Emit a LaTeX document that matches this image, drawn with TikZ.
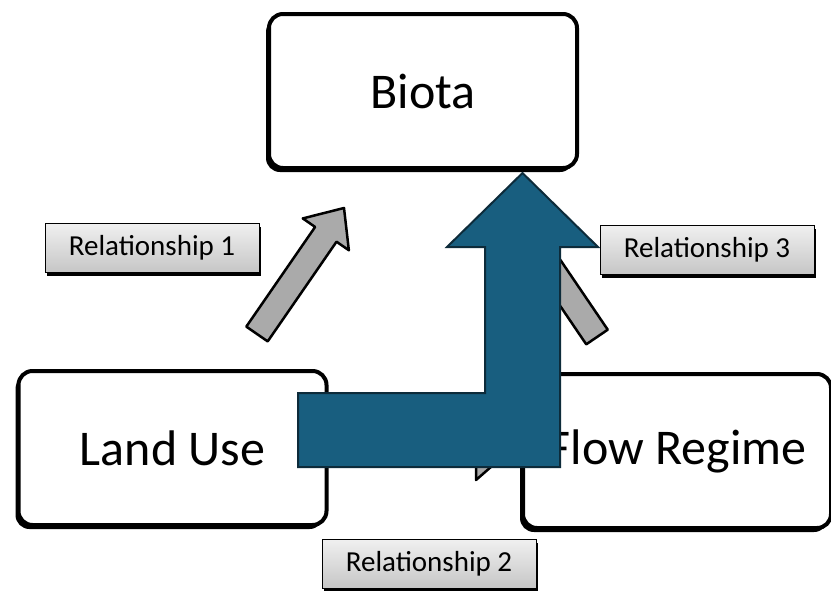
\documentclass[tikz,border=0pt]{standalone}
\usepackage{fontspec}
\setmainfont{Carlito}
\usetikzlibrary{calc, shadows}
\definecolor{FlowBlue}{HTML}{185E7F}
\definecolor{FlowEdge}{HTML}{0D2B3A}
\definecolor{ArrowGray}{HTML}{AAAAAA}

% block arrow between two named coordinates
\newcommand{\relarrow}[2]{%
  \coordinate (h) at ($(#2)!32pt!(#1)$);
  \draw[grayarrow] ($(#1)!13pt!90:(#2)$) -- ($(h)!13pt!90:(#2)$) -- ($(h)!28pt!90:(#2)$) -- (#2)
    -- ($(h)!28pt!-90:(#2)$) -- ($(h)!13pt!-90:(#2)$) -- ($(#1)!13pt!-90:(#2)$) -- cycle;
}

\begin{document}
\begin{tikzpicture}[x=1pt, y=-1pt,
    box/.style={draw=black, line width=4pt, rounded corners=14pt, fill=white,
      minimum width=308pt, minimum height=154pt, font=\fontsize{50}{60}\selectfont,
      drop shadow={shadow xshift=-3pt, shadow yshift=-4pt, opacity=1, fill=black}},
    rellabel/.style={draw=black, line width=0.8pt, top color=gray!12, bottom color=gray!45,
      minimum width=214pt, minimum height=49pt, font=\fontsize{29}{34}\selectfont,
      drop shadow={shadow xshift=2pt, shadow yshift=-3pt, opacity=1, fill=black}},
    grayarrow/.style={draw=black, line width=2.5pt, fill=ArrowGray, line join=round},
    bentarrow/.style={draw=FlowEdge, line width=2pt, fill=FlowBlue}]
  \useasboundingbox (0,0) rectangle (831,590);

  % the three boxes
  \node[box] (biota) at (423,91) {Biota};
  \node[box] (land) at (172.5,448) {Land Use};
  \node[box] (flow) at (677,451) {Flow Regime};

  % relationships
  \coordinate (a1s) at (257,334);
  \coordinate (a1e) at (344,208);
  \coordinate (a2s) at (345,452);
  \coordinate (a2e) at (508,452);
  \coordinate (a3s) at (597,337);
  \coordinate (a3e) at (508,206);
  \relarrow{a1s}{a1e}
  \relarrow{a2s}{a2e}
  \relarrow{a3s}{a3e}

  \node[rellabel] (rel1) at (152,248) {Relationship 1};
  \node[rellabel] (rel2) at (429,564) {Relationship 2};
  \node[rellabel] (rel3) at (707,250) {Relationship 3};

  % bent arrow on top
  \draw[bentarrow] (298,393) -- (485,393) -- (485,247) -- (447,247) -- (522.5,173)
    -- (598,247) -- (560,247) -- (560,467) -- (298,467) -- cycle;
\end{tikzpicture}
\end{document}
